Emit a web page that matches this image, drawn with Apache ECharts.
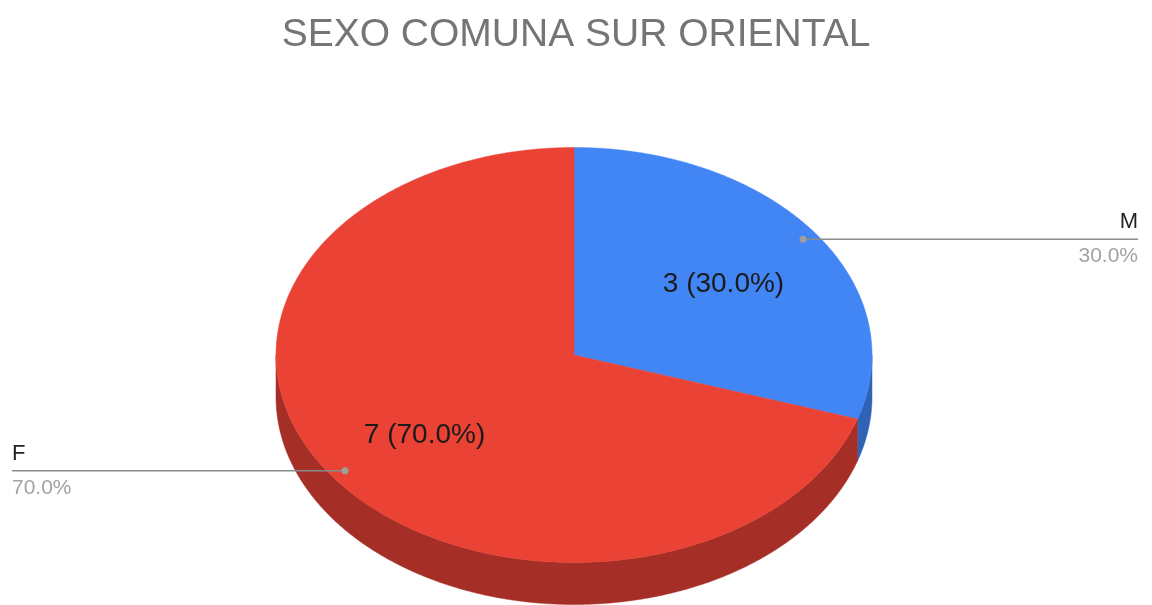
<!DOCTYPE html>
<html>
<head>
<meta charset="utf-8">
<script src="https://cdn.jsdelivr.net/npm/echarts@6/dist/echarts.min.js"></script>
<style>
  html, body { margin: 0; padding: 0; background: #fff; }
  #main { width: 1152px; height: 605px; }
</style>
</head>
<body>
<div id="main"></div>
<script>
const categories = ['M', 'F'];
const values = [3, 7];
const topColors = ['#4285f4', '#ea4335'];
const sideColors = ['#3063b6', '#a52e26'];

const total = values.reduce((a, b) => a + b, 0);
const starts = [];
let acc = 0;
values.forEach(v => { starts.push(acc / total * Math.PI * 2); acc += v; });

// ellipse geometry of the tilted pie
const CX = 574, CY = 355, RX = 298, RY = 207.5, DEPTH = 42;
const FONT = 'Liberation Sans, Arial, sans-serif';

function pt(a, r, dy) {
  return [CX + r * RX * Math.sin(a), CY - r * RY * Math.cos(a) + (dy || 0)];
}

function arc(a0, a1, dy) {
  const pts = [];
  const n = Math.max(2, Math.ceil((a1 - a0) / (Math.PI / 360)));
  for (let k = 0; k <= n; k++) pts.push(pt(a0 + (a1 - a0) * k / n, 1, dy));
  return pts;
}

function span(i) {
  const a0 = starts[i];
  return [a0, a0 + values[i] / total * Math.PI * 2];
}

function renderSide(params, api) {
  const i = params.dataIndex;
  const [a0, a1] = span(i);
  const lo = Math.max(a0, Math.PI / 2), hi = Math.min(a1, Math.PI * 1.5);
  if (hi <= lo) return { type: 'group', children: [] };
  const top = arc(lo, hi, 0);
  const bottom = arc(lo, hi, DEPTH).reverse();
  return {
    type: 'polygon',
    shape: { points: top.concat(bottom) },
    style: { fill: sideColors[i], stroke: sideColors[i], lineWidth: 0.5 }
  };
}

function renderTop(params, api) {
  const i = params.dataIndex;
  const v = api.value(0);
  const [a0, a1] = span(i);
  const mid = (a0 + a1) / 2;
  const pct = (v / total * 100).toFixed(1) + '%';
  const inner = pt(mid, 0.62, 5);
  const dot = pt(mid, 0.95);
  const right = Math.sin(mid) > 0;
  const endX = right ? 1138 : 12;
  return {
    type: 'group',
    children: [
      {
        type: 'polygon',
        shape: { points: [[CX, CY]].concat(arc(a0, a1, 0)) },
        style: { fill: topColors[i], stroke: topColors[i], lineWidth: 0.5 }
      },
      {
        type: 'text',
        style: {
          text: v + ' (' + pct + ')', x: inner[0], y: inner[1],
          align: 'center', verticalAlign: 'middle',
          fill: '#1a1a1a', font: '28px ' + FONT
        }
      },
      {
        type: 'line',
        shape: { x1: dot[0], y1: dot[1], x2: endX, y2: dot[1] },
        style: { stroke: '#8a8a8a', lineWidth: 1.5 }
      },
      {
        type: 'circle',
        shape: { cx: dot[0], cy: dot[1], r: 3.5 },
        style: { fill: '#9e9e9e' }
      },
      {
        type: 'text',
        style: {
          text: categories[i], x: endX, y: dot[1] - 6,
          align: right ? 'right' : 'left', verticalAlign: 'bottom',
          fill: '#222', font: '22px ' + FONT
        }
      },
      {
        type: 'text',
        style: {
          text: pct, x: endX, y: dot[1] + 7,
          align: right ? 'right' : 'left', verticalAlign: 'top',
          fill: '#a3a3a3', font: '21px ' + FONT
        }
      }
    ]
  };
}

const chart = echarts.init(document.getElementById('main'));
const seriesData = values.map((v, i) => ({ name: categories[i], value: v }));

chart.setOption({
  animation: false,
  title: {
    text: 'SEXO COMUNA SUR ORIENTAL',
    left: 'center',
    top: 11,
    textStyle: { fontFamily: FONT, fontSize: 39, fontWeight: 'normal', color: '#757575' }
  },
  series: [
    { type: 'custom', coordinateSystem: 'none', z: 1, silent: true, data: seriesData, renderItem: renderSide },
    { type: 'custom', coordinateSystem: 'none', z: 2, silent: true, data: seriesData, renderItem: renderTop }
  ]
});
</script>
</body>
</html>
